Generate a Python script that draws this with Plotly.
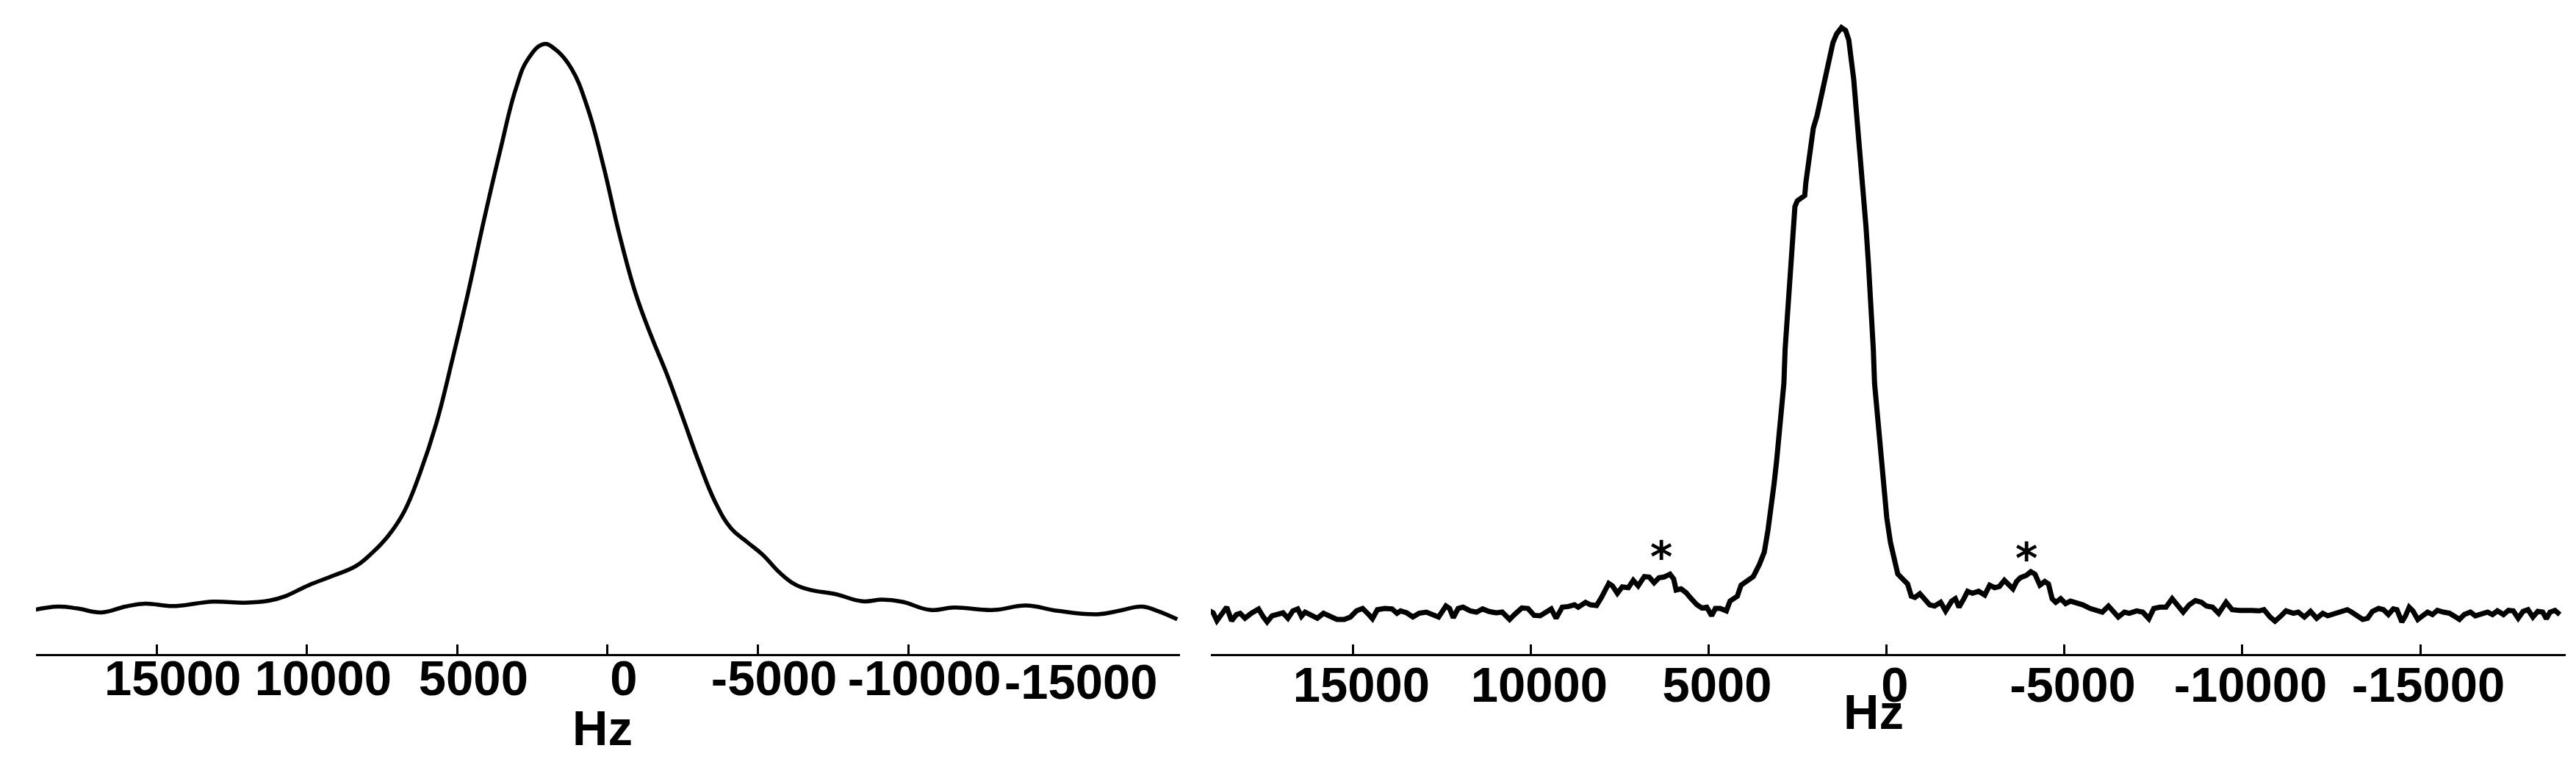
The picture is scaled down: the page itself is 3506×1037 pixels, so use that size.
import plotly.graph_objects as go

# ------------------------------------------------------------
# Data (frequency in Hz, relative intensity)
# ------------------------------------------------------------
left_hz = [19222, 18293, 17631, 16834, 16040, 15378, 14449, 13124, 12064, 11269,
           10739, 9945, 9148, 8354, 7823, 7293, 6763, 6232, 5702, 5171,
           4641, 4111, 3580, 3052, 2654, 2124, 1725, 1195, 665, 137,
           -393, -924, -1454, -1985, -2515, -3045, -3576, -4106, -4636, -5167,
           -5697, -6227, -6755, -7552, -8481, -9141, -9805, -10732, -11528, -12853,
           -13914, -14974, -16299, -17093, -17758, -18286, -18951]
left_int = [-0.3, 0.46, 0.12, -0.57, 0.46, 0.98, 0.55, 1.33, 1.15, 1.5,
            2.27, 4.24, 5.88, 7.69, 10.0, 13.0, 17.3, 24.2, 32.8, 44.0,
            56.0, 68.9, 81.0, 92.1, 97.3, 100.0, 99.0, 95.6, 88.7, 78.4,
            66.3, 56.0, 48.3, 41.4, 33.7, 25.9, 19.0, 14.3, 11.9, 9.6,
            6.6, 4.4, 3.4, 2.7, 1.4, 1.7, 1.3, -0.14, 0.29, -0.14,
            0.64, -0.3, -0.9, -0.2, 0.46, -0.3, -1.8]

right_hz = [19042, 18939, 18835, 18697, 18560, 18422, 18284, 18181, 18046, 17871,
            17664, 17527, 17423, 17286, 17148, 16976, 16838, 16700, 16563, 16459,
            16356, 16184, 16012, 15839, 15633, 15460, 15254, 15082, 14910, 14738,
            14565, 14462, 14324, 14118, 13911, 13773, 13670, 13498, 13326, 13153,
            12947, 12775, 12602, 12396, 12293, 12189, 12052, 11914, 11707, 11535,
            11363, 11191, 10984, 10812, 10605, 10468, 10261, 10089, 9917, 9745,
            9607, 9435, 9297, 9125, 8952, 8780, 8677, 8539,
            8471, 8333, 8161, 8023, 7920, 7817, 7713, 7576, 7438, 7266,
            7128, 6990, 6818, 6680, 6543, 6405, 6267, 6095, 5992, 5923,
            5785, 5647, 5510, 5337, 5200, 5062, 4924, 4821, 4683, 4511,
            4408, 4201, 4098, 3926, 3753,
            3581, 3444, 3340, 3237, 3168, 3099, 3030, 2961, 2893,
            2858, 2789, 2720, 2652, 2583, 2514, 2410, 2307, 2273, 2204,
            2149, 2066, 1963, 1860, 1756, 1653, 1584, 1515, 1412, 1274,
            1157, 1068, 999, 930, 861, 792, 723, 654, 585, 517,
            448, 379,
            344, 276, 207, 138, 69, 0, -103, -207, -310, -448,
            -585, -689, -792, -930, -1067, -1205, -1343, -1515, -1653,
            -1825, -1928, -2032, -2169,
            -2273, -2411, -2583, -2755, -2893, -3031, -3168, -3306, -3444, -3547,
            -3650, -3754, -3926, -4050, -4167, -4305, -4442, -4546, -4649, -4752,
            -4890, -5028, -5165, -5338, -5510, -5717, -5923, -6061, -6233, -6371,
            -6509, -6681, -6818, -7025, -7197, -7369, -7507, -7679, -7851, -8024,
            -8196, -8334, -8506, -8678, -8850, -8988, -9160, -9332, -9539, -9711,
            -9918, -10124, -10262, -10469, -10606, -10779, -10916, -11088, -11226, -11433,
            -11570, -11743, -11915, -12087, -12259, -12397, -12604, -12776, -12948,
            -13071, -13209, -13381, -13519, -13656, -13829, -13966, -14104, -14242, -14345,
            -14483, -14586, -14689, -14793, -14930, -15068, -15206, -15344, -15481, -15653,
            -15826, -15998, -16101, -16239, -16411, -16549, -16721, -16893, -17031, -17169,
            -17341, -17479, -17616, -17754, -17892, -18030, -18167, -18305, -18443, -18546,
            -18649, -18787, -18925]
right_int = [0.59, 0.25, -1.09, -0.04, 1.22, -1.09, -0.04, 0.17, -0.67, 0.17,
             0.92, -0.46, -1.3, -0.25, -0.04, 0.25, -0.67, 0.59, 0.92, -0.34,
             0.38, -0.04, -0.67, 0.17, -0.46, -0.88, -0.88, -0.46, 0.59, 1.0,
             -0.04, -0.75, 0.79, 1.0, 0.92, 0.17, 0.59, 0.25, -0.46, 0.17,
             0.38, -0.04, -0.46, 1.42, 1.0, -0.59, 1.0, 1.22, 0.59, 0.38,
             0.92, 0.5, 0.25, 0.38, -0.88, -0.04, 1.09, 1.0, -0.17, -0.25,
             0.38, 0.92, -0.67, 1.22, 1.34, 1.63, 1.22, 1.93,
             2.05, 1.63, 1.51, 2.89, 3.94, 5.28, 4.86, 3.6, 4.69, 4.56,
             5.82, 4.86, 6.45, 6.37, 5.4, 6.24, 6.37, 6.87, 6.03, 4.15,
             4.36, 3.73, 2.76, 1.63, 1.09, 1.22, -0.25, 1.0, 1.0, 0.59,
             2.26, 3.1, 4.98, 5.82, 6.45,
             8.54, 10.64, 14.41, 18.59, 22.36, 26.13, 30.3, 34.5, 39.5,
             45.4, 51.7, 60.1, 66.3, 69.7, 70.7, 71.1, 71.6, 73.9, 76.8,
             79.7, 83.1, 85.2, 88.1, 91.0, 94.0, 96.1, 97.7, 99.2, 100.3,
             99.8, 98.2, 94.8, 91.5, 86.4, 81.4, 76.8, 72.9, 66.3, 60.1,
             53.8, 45.4,
             39.5, 34.5, 29.1, 24.9, 20.7, 16.5, 12.3, 9.0, 6.87, 6.03,
             5.19, 3.1, 2.89, 3.52, 2.47, 1.63, 1.42, 2.05, 0.59,
             2.26, 2.68, 1.22, 2.68,
             3.94, 3.6, 3.94, 3.31, 4.98, 4.56, 4.77, 5.82, 4.98, 4.36,
             5.61, 6.24, 6.66, 7.29, 6.87, 4.98, 5.61, 5.19, 2.68, 2.05,
             2.68, 1.84, 2.26, 2.05, 1.63, 1.0, 0.59, 0.38, 1.42, 0.59,
             -0.46, 0.38, 0.17, 0.59, 0.38, -0.75, 1.0, 1.22, 1.22, 2.68,
             1.22, 0.38, 1.63, 2.35, 2.05, 1.42, 1.22, 0.17, 2.05, 0.79,
             0.67, 0.79, 0.67, 0.59, 0.79, -0.46, -1.17, -0.25, 0.59, 0.17,
             0.38, -0.46, 0.5, -0.67, 0.17, -0.25, 0.17, 0.38, 0.79,
             0.38, -0.25, -0.88, -0.67, 0.5, 1.0, 0.79, -0.04, 0.92, 0.79,
             -1.3, -0.25, 1.22, 0.59, -0.88, -0.25, 0.38, -0.04, 0.67, 0.38,
             0.17, -0.46, -0.88, -0.04, 0.38, -0.25, -0.04, 0.38, -0.04, 0.59,
             -0.04, 0.67, 0.59, -0.67, 0.5, 0.79, -0.46, 0.5, 0.38, -0.75,
             0.38, 0.67, -0.04]

tick_vals = [15000, 10000, 5000, 0, -5000, -10000, -15000]
tick_text = ["15000", "10000", "5000", "0", "-5000", "-10000", "-15000"]

# spinning sidebands marked with an asterisk (right spectrum)
star_hz = [6336, -3926]
star_int = [9.8, 9.6]

# ------------------------------------------------------------
# Figure
# ------------------------------------------------------------
FONT = "Liberation Sans, Arial, sans-serif"
W, H = 3506, 1037

fig = go.Figure()
fig.add_trace(go.Scatter(x=left_hz, y=left_int, mode="lines",
                         line=dict(color="black", width=5.5, shape="spline", smoothing=1.2),
                         xaxis="x", yaxis="y", showlegend=False, hoverinfo="skip"))
fig.add_trace(go.Scatter(x=right_hz, y=right_int, mode="lines",
                         line=dict(color="black", width=7),
                         xaxis="x2", yaxis="y2", showlegend=False, hoverinfo="skip"))

axis_style = dict(
    showline=True, linecolor="black", linewidth=3,
    ticks="inside", ticklen=13, tickwidth=3, tickcolor="black",
    showgrid=False, zeroline=False, tickangle=0,
    tickfont=dict(family=FONT, size=67, color="black", weight="bold"),
)

# axes run from high to low Hz, so a negative shift moves labels to the right
fig.update_layout(
    width=W, height=H,
    paper_bgcolor="white", plot_bgcolor="white",
    margin=dict(l=41, r=22, t=20, b=155),
    xaxis=dict(domain=[0, 0.4522], range=[19014, -19039], anchor="y",
               tickvals=tick_vals[:-1], ticktext=tick_text[:-1],
               ticklabelshift=-22, ticklabelstandoff=-27, **axis_style),
    yaxis=dict(domain=[0, 1], range=[-7.93, 104.16], visible=False, anchor="x"),
    xaxis2=dict(domain=[0.4644, 1], range=[19007, -19090], anchor="y2",
                tickvals=tick_vals, ticktext=tick_text,
                ticklabelshift=-11, ticklabelstandoff=-18, **axis_style),
    yaxis2=dict(domain=[0, 1], range=[-6.78, 101.5], visible=False, anchor="x2"),
)

label_font = dict(family=FONT, size=67, color="black", weight="bold")
annotations = [
    # left panel: last label sits without a tick mark
    dict(text=tick_text[-1], x=tick_vals[-1], xref="x", xshift=31,
         y=0, yref="paper", yanchor="top", yshift=2, showarrow=False, font=label_font),
    dict(text="Hz", x=171, xref="x", y=0, yref="paper", yanchor="top", yshift=-61,
         showarrow=False, font=label_font),
    dict(text="Hz", x=372, xref="x2", y=0, yref="paper", yanchor="top", yshift=-39,
         showarrow=False, font=label_font),
]
for sx, sy in zip(star_hz, star_int):
    annotations.append(dict(text="*", x=sx, y=sy, xref="x2", yref="y2",
                            yanchor="middle", showarrow=False,
                            font=dict(family="DejaVu Sans", size=58, color="black",
                                      weight="bold")))
fig.update_layout(annotations=annotations)

fig.write_html("out.html")
